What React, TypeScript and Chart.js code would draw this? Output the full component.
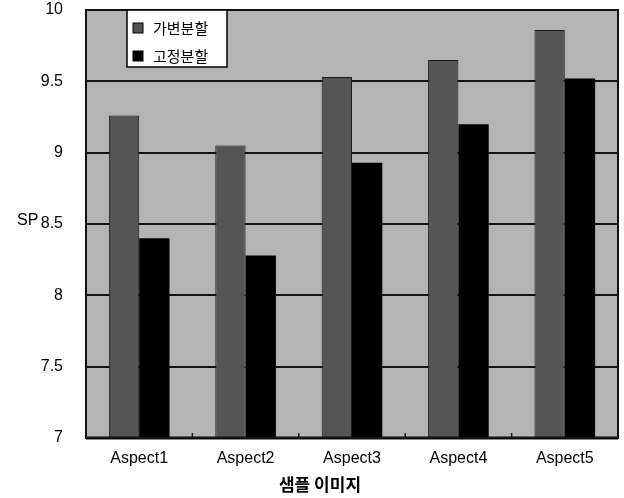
import React, { useEffect, useRef } from "react";
import { Chart, registerables } from "chart.js";

Chart.register(...registerables);

const categories = ["Aspect1", "Aspect2", "Aspect3", "Aspect4", "Aspect5"];
const seriesLabels = ["가변분할", "고정분할"];
const variableSplit = [9.26, 9.05, 9.53, 9.65, 9.86];
const fixedSplit = [8.4, 8.28, 8.93, 9.2, 9.52];
const yTicks = [7, 7.5, 8, 8.5, 9, 9.5, 10];
const yTitle = "SP";
const xTitle = "샘플 이미지";

const FONT = "'Liberation Sans', Arial, sans-serif";
const KFONT = "'Noto Sans CJK KR', sans-serif";

const bgPlugin = {
  id: "bgPlugin",
  beforeDraw(chart: any) {
    const { ctx, chartArea: a } = chart;
    ctx.save();
    ctx.fillStyle = "#ffffff";
    ctx.fillRect(0, 0, chart.width, chart.height);
    ctx.fillStyle = "#b4b4b4";
    ctx.fillRect(a.left, a.top, a.right - a.left, a.bottom - a.top);
    ctx.restore();
  },
  afterDraw(chart: any) {
    const { ctx, chartArea: a } = chart;
    ctx.save();
    // frame
    ctx.strokeStyle = "#111";
    ctx.lineWidth = 2;
    ctx.strokeRect(a.left, a.top, a.right - a.left, a.bottom - a.top);
    ctx.lineWidth = 3;
    ctx.beginPath();
    ctx.moveTo(a.left, a.bottom);
    ctx.lineTo(a.right, a.bottom);
    ctx.stroke();
    // x tick marks (inside)
    const xs = chart.scales.x;
    ctx.lineWidth = 1.5;
    for (let i = 1; i < categories.length; i++) {
      const x = (xs.getPixelForValue(i - 1) + xs.getPixelForValue(i)) / 2;
      ctx.beginPath();
      ctx.moveTo(x, a.bottom);
      ctx.lineTo(x, a.bottom - 5);
      ctx.stroke();
    }
    // legend box
    const lx = a.left + 41;
    const ly = a.top;
    const lw = 100;
    const lh = 57;
    ctx.fillStyle = "#ffffff";
    ctx.fillRect(lx, ly, lw, lh);
    ctx.strokeStyle = "#000";
    ctx.lineWidth = 1.5;
    ctx.strokeRect(lx, ly, lw, lh);
    ctx.font = `15px ${KFONT}`;
    ctx.textBaseline = "middle";
    ctx.textAlign = "left";
    chart.data.datasets.forEach((ds: any, i: number) => {
      const cy = ly + 18 + i * 28;
      ctx.fillStyle = ds.backgroundColor;
      ctx.fillRect(lx + 6, cy - 5, 10, 10);
      ctx.strokeStyle = "#000";
      ctx.lineWidth = 1;
      ctx.strokeRect(lx + 6, cy - 5, 10, 10);
      ctx.fillStyle = "#000";
      ctx.fillText(ds.label, lx + 26, cy);
    });
    // axis titles
    ctx.fillStyle = "#000";
    ctx.font = `16px ${FONT}`;
    ctx.textAlign = "left";
    ctx.textBaseline = "middle";
    ctx.fillText(yTitle, 17, (a.top + a.bottom) / 2 - 3);
    ctx.font = `bold 17px ${KFONT}`;
    ctx.textAlign = "center";
    ctx.fillText(xTitle, 320, 485);
    ctx.restore();
  },
};

export default function App() {
  const ref = useRef<HTMLCanvasElement>(null);
  useEffect(() => {
    if (!ref.current) return;
    const chart = new Chart(ref.current, {
      type: "bar",
      data: {
        labels: categories,
        datasets: [
          {
            label: seriesLabels[0],
            data: variableSplit,
            backgroundColor: "#555555",
            borderColor: "#1a1a1a",
            borderWidth: 1,
            categoryPercentage: 0.57,
            barPercentage: 1,
          },
          {
            label: seriesLabels[1],
            data: fixedSplit,
            backgroundColor: "#000000",
            borderWidth: 0,
            categoryPercentage: 0.57,
            barPercentage: 1,
          },
        ],
      },
      plugins: [bgPlugin],
      options: {
        responsive: false,
        animation: false,
        devicePixelRatio: 1,
        layout: { padding: { top: 10, right: 6, left: 0, bottom: 0 } },
        plugins: {
          legend: { display: false },
          tooltip: { enabled: false },
          title: { display: false },
        },
        scales: {
          x: {
            grid: { display: false, drawTicks: false },
            border: { display: false },
            ticks: {
              color: "#000",
              font: { family: FONT, size: 16 },
              padding: 11,
            },
            afterFit(s: any) {
              s.height = 60;
            },
          },
          y: {
            min: 7,
            max: 10,
            afterBuildTicks(s: any) {
              s.ticks = yTicks.map((v) => ({ value: v }));
            },
            grid: {
              color: "#111",
              lineWidth: 2,
              drawTicks: true,
              tickLength: 23,
              tickColor: "rgba(0,0,0,0)",
            },
            border: { display: false },
            ticks: {
              color: "#000",
              font: { family: FONT, size: 16 },
              padding: 0,
              callback: (v: any) => String(v),
            },
            afterFit(s: any) {
              s.width = 86;
            },
          },
        },
      },
    });
    return () => chart.destroy();
  }, []);
  return (
    <div style={{ position: "fixed", left: 0, top: 0, width: 624, height: 498, background: "#fff" }}>
      <canvas ref={ref} width={624} height={498} style={{ width: 624, height: 498 }} />
    </div>
  );
}
